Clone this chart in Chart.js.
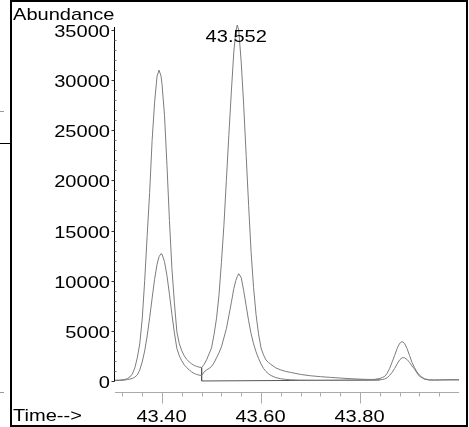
<!DOCTYPE html>
<html>
<head>
<meta charset="utf-8">
<script src="https://cdn.jsdelivr.net/npm/chart.js@4/dist/chart.umd.min.js"></script>
<style>
html,body{margin:0;padding:0;background:#fff;}
canvas{display:block;}
</style>
</head>
<body>
<canvas id="c" width="469" height="427"></canvas>
<script>
// ---- data ----
const times = [43.305,43.315,43.325,43.33,43.335,43.34,43.345,43.35,43.355,43.36,43.365,43.37,43.375,43.38,43.385,43.39,43.394,43.398,43.40,43.405,43.41,43.415,43.42,43.425,43.43,43.435,43.44,43.445,43.45,43.455,43.46,43.465,43.47,43.475,43.48,
  43.485,43.49,43.495,43.50,43.505,43.51,43.515,43.52,43.525,43.53,43.535,43.54,43.545,43.549,43.552,43.555,43.56,43.565,43.57,43.575,43.58,43.585,43.59,43.595,43.60,43.605,43.61,43.615,43.62,43.63,43.64,43.65,43.66,43.68,43.70,43.72,43.74,43.76,43.78,43.80,43.82,43.83,
  43.84,43.845,43.85,43.855,43.86,43.865,43.87,43.875,43.88,43.885,43.89,43.895,43.90,43.905,43.91,43.915,43.92,43.925,43.93,43.94,43.95,43.96,43.98,44.00];
const traceA = [80,90,150,230,400,700,1300,2300,3700,6200,10000,14500,18800,24000,27800,30400,31000,30400,29600,26500,21500,16000,11200,7800,4900,3700,3000,2500,2150,1900,1700,1550,1450,1380,1330,
  1650,2100,2700,3300,4600,6200,8500,11800,15500,20000,24500,28800,32800,34800,35500,35000,31800,27500,22500,17500,12800,9300,6600,4700,3300,2600,2100,1850,1650,1300,1100,950,850,650,520,430,360,290,230,180,150,160,
  250,340,460,780,1270,1900,2550,3240,3750,3930,3750,3240,2550,1850,1350,900,600,380,220,120,100,110,130,130];
const traceB = [40,50,90,140,190,250,380,600,1100,1900,3000,4500,6300,8250,10150,11650,12400,12700,12650,11900,10500,8650,6650,4800,3250,2500,2000,1600,1330,1100,900,750,650,580,550,
  900,1100,1250,1450,1800,2300,2800,3400,4300,5200,6500,7800,9200,10000,10400,10700,10300,9000,7500,6000,4700,3700,2900,2250,1700,1250,950,720,550,330,220,160,120,80,70,60,60,60,70,80,90,100,
  120,150,200,330,560,870,1250,1700,2100,2320,2310,2150,1850,1500,1200,800,480,330,180,90,80,90,100,100];
// integration baseline drawn under the second peak
const baselineTimes = [43.48, 43.48, 43.84];
const baselineValues = [1330, 0, 100];

const yTicks = [0,5000,10000,15000,20000,25000,30000,35000];
const yTickLabels = ["0","5000","10000","15000","20000","25000","30000","35000"];
const yMinorTicks = [1000,2000,3000,4000,6000,7000,8000,9000,11000,12000,13000,14000,16000,17000,18000,19000,21000,22000,23000,24000,26000,27000,28000,29000,31000,32000,33000,34000];
const xTicks = [43.40, 43.60, 43.80];
const xTickLabels = ["43.40","43.60","43.80"];
const xMinorTicks = [43.32,43.36,43.44,43.48,43.52,43.56,43.64,43.68,43.72,43.76,43.84,43.88,43.92,43.96];
const yTitle = "Abundance";
const xTitle = "Time-->";
const peakLabel = "43.552";
const peakTime = 43.552;

// ---- drawing ----
const FONT = '17px "Liberation Sans", Arial, sans-serif';
const SX = 1.18;
function sText(ctx, text, x, y, align, base) {
  ctx.save();
  ctx.translate(x, y);
  ctx.scale(SX, 1);
  ctx.font = FONT;
  ctx.fillStyle = '#000';
  ctx.textAlign = align;
  ctx.textBaseline = base;
  ctx.fillText(text, 0, 0);
  ctx.restore();
}

const decor = {
  id: 'decor',
  afterDraw(chart) {
    const ctx = chart.ctx;
    const xs = chart.scales.x, ys = chart.scales.y;
    const area = chart.chartArea;
    ctx.save();
    // frame
    ctx.fillStyle = '#000';
    ctx.fillRect(10, 0, 458, 2);
    ctx.fillRect(10, 0, 2, 427);
    ctx.fillRect(466, 0, 2, 427);
    ctx.fillRect(10, 425, 458, 2);
    // stray marks at the left edge
    ctx.fillStyle = '#999';
    ctx.fillRect(0, 111, 4, 1);
    ctx.fillRect(0, 392, 4, 1);
    ctx.fillStyle = '#000';
    ctx.fillRect(0, 143, 11, 1);

    // y axis line (from 0 up to the top)
    const x0 = Math.round(area.left) - 0.5;
    const yZero = ys.getPixelForValue(0);
    ctx.strokeStyle = '#000';
    ctx.lineWidth = 1;
    ctx.beginPath();
    ctx.moveTo(x0, ys.getPixelForValue(35300));
    ctx.lineTo(x0, Math.round(yZero) + 0.5);
    ctx.stroke();
    // y ticks
    ctx.strokeStyle = '#333';
    yTicks.forEach((v, i) => {
      const y = Math.round(ys.getPixelForValue(v)) + 0.5;
      ctx.beginPath(); ctx.moveTo(x0 - 3, y); ctx.lineTo(x0, y); ctx.stroke();
      sText(ctx, yTickLabels[i], 110, y + 1.5, 'right', 'middle');
    });
    ctx.strokeStyle = '#777';
    yMinorTicks.forEach(v => {
      const y = Math.round(ys.getPixelForValue(v)) + 0.5;
      ctx.beginPath(); ctx.moveTo(x0, y); ctx.lineTo(x0 + 2, y); ctx.stroke();
    });

    // x axis line
    const yAx = Math.round(area.bottom) + 0.5;
    ctx.strokeStyle = '#aaa';
    ctx.beginPath();
    ctx.moveTo(area.left, yAx);
    ctx.lineTo(area.right, yAx);
    ctx.stroke();
    xMinorTicks.forEach(v => {
      const x = Math.round(xs.getPixelForValue(v)) + 0.5;
      ctx.beginPath(); ctx.moveTo(x, yAx); ctx.lineTo(x, yAx + 4); ctx.stroke();
    });
    xTicks.forEach((v, i) => {
      const x = Math.round(xs.getPixelForValue(v)) + 0.5;
      ctx.beginPath(); ctx.moveTo(x, yAx); ctx.lineTo(x, yAx + 11); ctx.stroke();
      sText(ctx, xTickLabels[i], x - 1, 421.5, 'center', 'alphabetic');
    });

    // titles
    sText(ctx, yTitle, 13, 19.5, 'left', 'alphabetic');
    sText(ctx, xTitle, 13, 421, 'left', 'alphabetic');
    // peak annotation
    sText(ctx, peakLabel, xs.getPixelForValue(peakTime) - 1, area.top + 20, 'center', 'alphabetic');
    ctx.restore();
  }
};

const lineStyle = { borderColor: '#7c7c7c', borderWidth: 1, pointRadius: 0, tension: 0, fill: false };

new Chart(document.getElementById('c'), {
  type: 'line',
  data: {
    datasets: [
      Object.assign({ label: 'Trace A', data: times.map((t, i) => ({ x: t, y: traceA[i] })) }, lineStyle),
      Object.assign({ label: 'Trace B', data: times.map((t, i) => ({ x: t, y: traceB[i] })) }, lineStyle),
      Object.assign({ label: 'Baseline', data: baselineTimes.map((t, i) => ({ x: t, y: baselineValues[i] })) }, lineStyle, { borderColor: '#555' })
    ]
  },
  options: {
    responsive: false,
    animation: false,
    events: [],
    layout: { padding: { left: 115, right: 10, top: 22, bottom: 35 } },
    plugins: { legend: { display: false }, tooltip: { enabled: false } },
    scales: {
      x: { type: 'linear', display: false, min: 43.305, max: 44.0 },
      y: { type: 'linear', display: false, min: -1100, max: 35800 }
    }
  },
  plugins: [decor]
});
</script>
</body>
</html>
